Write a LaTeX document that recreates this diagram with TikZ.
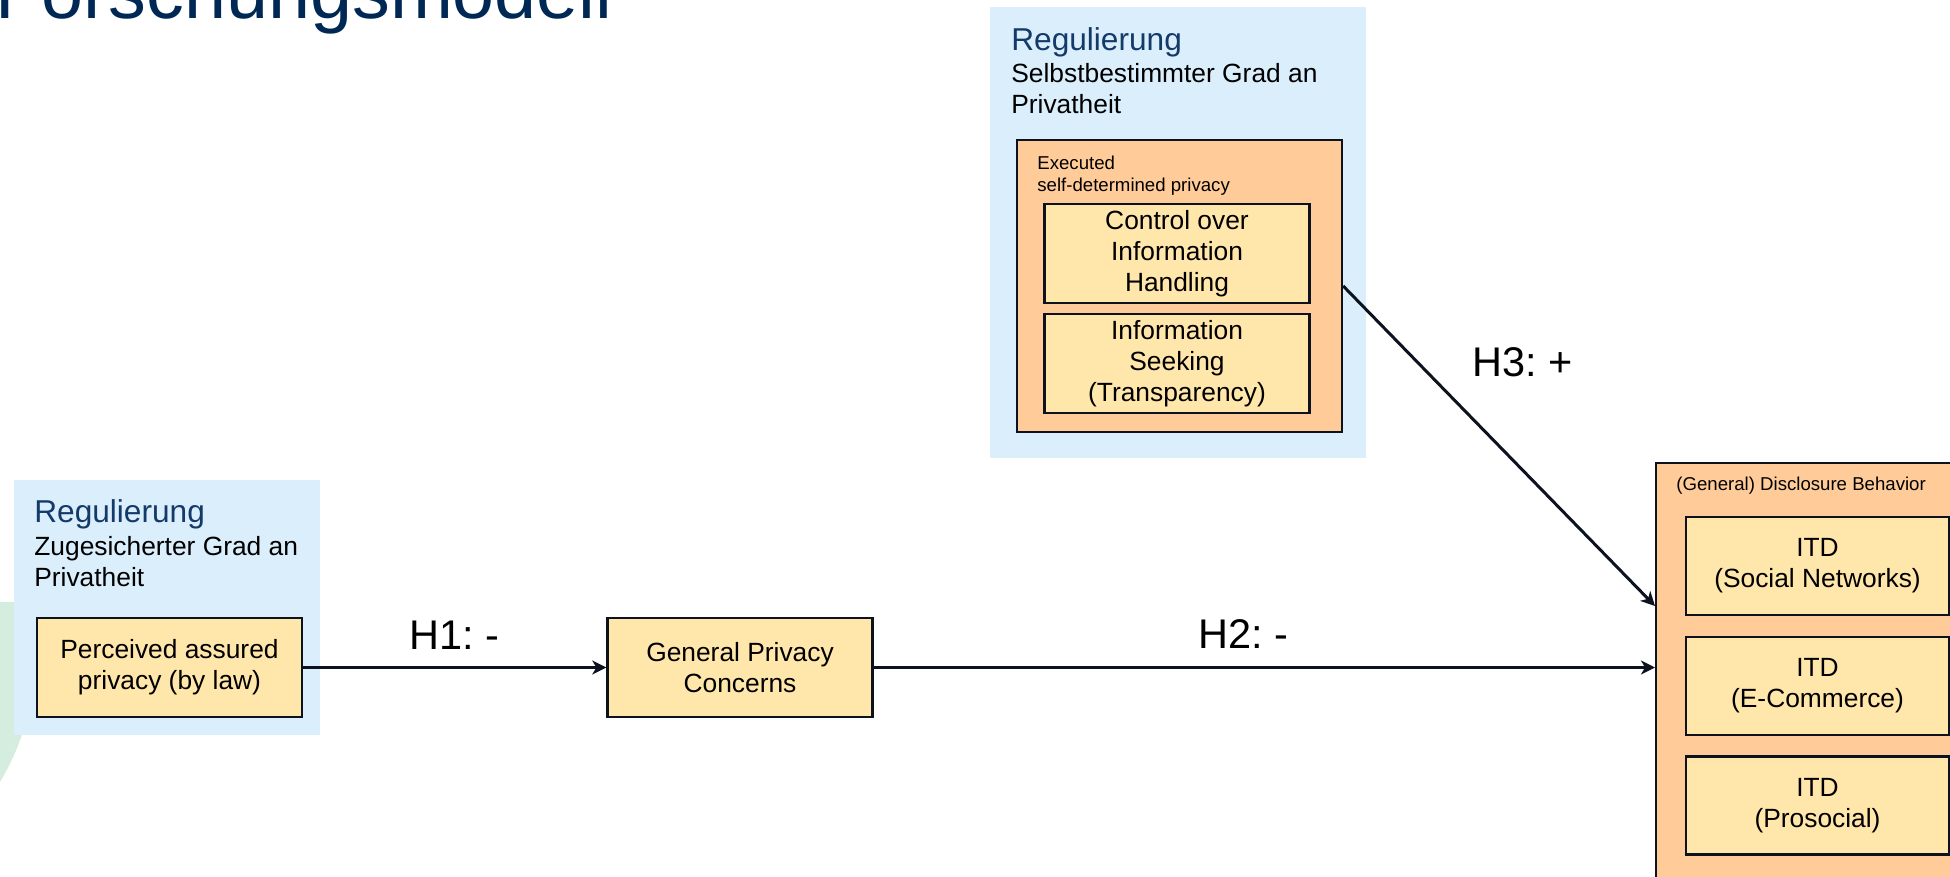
\documentclass[tikz,border=0pt]{standalone}
\usepackage{fontspec}
\setmainfont{Liberation Sans}
\usetikzlibrary{arrows.meta,positioning,calc}
\frenchspacing

\definecolor{regfill}{RGB}{218,238,252}
\definecolor{grpfill}{RGB}{255,204,153}
\definecolor{varfill}{RGB}{255,230,170}
\definecolor{mint}{RGB}{213,237,223}
\definecolor{titleblue}{RGB}{0,40,85}
\definecolor{regtext}{RGB}{20,58,106}
\definecolor{linecol}{RGB}{12,18,30}

\newcommand{\titlefont}{\fontsize{43}{50}\selectfont}
\newcommand{\regfont}{\fontsize{18}{21}\selectfont}
\newcommand{\bodyfont}{\fontsize{15}{17.6}\selectfont}
\newcommand{\grpfont}{\fontsize{10.6}{12.5}\selectfont}
\newcommand{\hypfont}{\fontsize{23.6}{28}\selectfont}

\begin{document}
\begin{tikzpicture}[x=0.02cm,y=-0.02cm,>={Stealth[length=0.28cm,width=0.28cm,inset=0.08cm]},
  regbox/.style={fill=regfill,inner sep=0},
  grpbox/.style={draw=linecol,line width=1.4pt,fill=grpfill,inner sep=0},
  varbox/.style={draw=linecol,line width=1.4pt,fill=varfill,align=center,inner sep=0,
    minimum width=5.3cm,minimum height=1.98cm,font=\bodyfont},
  hyp/.style={font=\hypfont,inner sep=0},
  link/.style={->,draw=linecol,line width=1.7pt}]
\path[use as bounding box] (0,0) rectangle (1950,876);
\clip (0,0) rectangle (1950,876);
\fill[mint] (0,602) -- (40,602) .. controls (40,690) and (25,740) .. (0,782) -- cycle;
\node[font=\titlefont,text=titleblue,anchor=base west,inner sep=0] (title) at (-5,18) {Forschungsmodell};

\node[regbox,minimum width=6.12cm,minimum height=5.1cm] (regA) at (167,607.5) {};
\node[font=\regfont,text=regtext,anchor=base west,inner sep=0] (regAtitle) at (34,522) {Regulierung};
\node[font=\bodyfont,align=left,anchor=north west,inner sep=0] (regAsub) at (34,536) {Zugesicherter Grad an\\Privatheit};
\node[varbox] (pap) at (169.5,667.5) {Perceived assured\\privacy (by law)};
\node[varbox] (gpc) at (740,667.5) {General Privacy\\Concerns};

\node[regbox,minimum width=7.52cm,minimum height=9.02cm] (regB) at (1178,232.5) {};
\node[font=\regfont,text=regtext,anchor=base west,inner sep=0] (regBtitle) at (1011,50) {Regulierung};
\node[font=\bodyfont,align=left,anchor=north west,inner sep=0] (regBsub) at (1011,63) {Selbstbestimmter Grad an\\Privatheit};
\node[grpbox,minimum width=6.5cm,minimum height=5.84cm] (exec) at (1179.5,286) {};
\node[font=\grpfont,align=left,anchor=north west,inner sep=0] (execlabel) at (1037,156) {Executed\\self-determined privacy};
\node[varbox,text depth=0.1cm] (ctrl) at (1177,253.5) {Control over\\Information\\Handling};
\node[varbox,text depth=0.1cm] (seek) at (1177,363.5) {Information\\Seeking\\(Transparency)};

\node[grpbox,minimum width=6.9cm,minimum height=8.96cm,anchor=north west] (disc) at (1655,462) {};
\node[font=\grpfont,anchor=base west,inner sep=0] (disclabel) at (1676,490) {(General) Disclosure Behavior};
\node[varbox,minimum width=5.26cm,minimum height=1.96cm] (itdA) at (1817.5,566) {ITD\\(Social Networks)};
\node[varbox,minimum width=5.26cm,minimum height=1.96cm] (itdB) at (1817.5,686) {ITD\\(E-Commerce)};
\node[varbox,minimum width=5.26cm,minimum height=1.96cm] (itdC) at (1817.5,805.5) {ITD\\(Prosocial)};

\draw[link] (pap.east) -- node[hyp,above=0.34cm] (h1) {H1: -} (gpc.west);
\draw[link] (gpc.east) -- node[hyp,pos=0.473,above=0.36cm] (h2) {H2: -} (gpc.east -| disc.west);
\draw[link] (exec.east) -- node[hyp,pos=0.237,right=1.08cm] (h3) {H3: +} ($(disc.north west)+(0,144)$);
\end{tikzpicture}
\end{document}
